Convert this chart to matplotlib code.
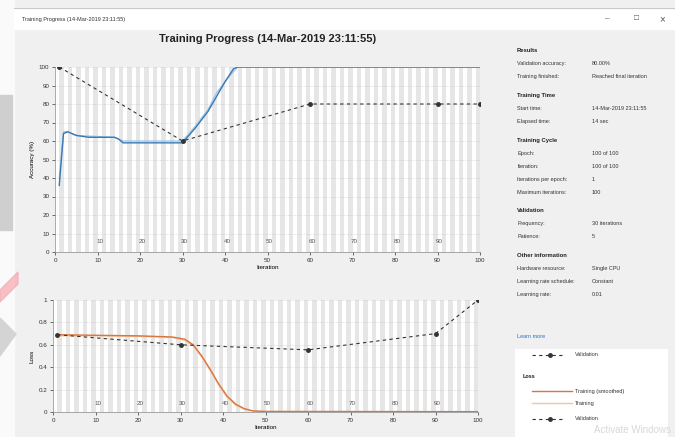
import matplotlib
matplotlib.use("Agg")
import matplotlib.pyplot as plt
from matplotlib.patches import Rectangle, Polygon
from matplotlib.lines import Line2D

plt.rcParams["font.family"] = ["Liberation Sans", "DejaVu Sans"]

# accuracy (%) vs iteration
acc_it = [1, 2, 3, 5, 8, 14, 15, 16, 20, 30, 33, 36, 38, 40, 42, 43, 100]
acc_smooth = [36, 64, 65, 63, 62, 62, 61, 59, 59, 59, 67, 76, 84, 92, 99, 100, 100]
acc_raw_it = [1, 2, 3, 5, 14, 15, 16, 30, 33, 36, 38, 41, 43, 100]
acc_raw = [40, 65, 65, 63, 62, 61, 60, 60, 68, 77, 86, 95, 100, 100]
val_it = [1, 30, 60, 90, 100]
val_acc = [100, 60, 80, 80, 80]

# loss vs iteration
loss_it = [1, 10, 20, 28, 31, 33, 35, 37, 39, 41, 43, 45, 47, 50, 100]
loss_smooth = [0.69, 0.685, 0.68, 0.67, 0.65, 0.60, 0.50, 0.38, 0.25, 0.14, 0.07, 0.03, 0.01, 0.005, 0.003]
loss_raw = [0.68, 0.68, 0.675, 0.665, 0.64, 0.59, 0.49, 0.37, 0.24, 0.13, 0.06, 0.025, 0.008, 0.004, 0.002]
val_loss = [0.69, 0.60, 0.555, 0.70, 1.0]

epochs = list(range(1, 101))
epoch_labels = [10, 20, 30, 40, 50, 60, 70, 80, 90]

info_rows = [
    ("Results", None),
    ("Validation accuracy:", "80.00%"),
    ("Training finished:", "Reached final iteration"),
    ("Training Time", None),
    ("Start time:", "14-Mar-2019 23:11:55"),
    ("Elapsed time:", "14 sec"),
    ("Training Cycle", None),
    ("Epoch:", "100 of 100"),
    ("Iteration:", "100 of 100"),
    ("Iterations per epoch:", "1"),
    ("Maximum iterations:", "100"),
    ("Validation", None),
    ("Frequency:", "30 iterations"),
    ("Patience:", "5"),
    ("Other information", None),
    ("Hardware resource:", "Single CPU"),
    ("Learning rate schedule:", "Constant"),
    ("Learning rate:", "0.01"),
]

W, H = 675, 437
fig = plt.figure(figsize=(W / 100, H / 100), dpi=100)
fig.patch.set_facecolor("#f0f0f0")


def fx(px):
    return px / W


def fy(py):
    return 1 - py / H


# page behind window, title bar
fig.add_artist(Rectangle((0, 0), fx(14), 1, transform=fig.transFigure, color="#fafafa", zorder=0))
fig.add_artist(Rectangle((0, fy(230)), fx(12), fy(95) - fy(230), transform=fig.transFigure, color="#cfcfcf", zorder=1))
fig.add_artist(Polygon([[0, fy(290)], [fx(18), fy(272)], [fx(18), fy(284)], [0, fy(302)]],
                       transform=fig.transFigure, color="#f6a8b0", alpha=0.7, zorder=1))
fig.add_artist(Polygon([[0, fy(318)], [fx(16), fy(334)], [0, fy(356)]],
                       transform=fig.transFigure, color="#d4d4d4", zorder=1))
fig.add_artist(Rectangle((fx(14), fy(29)), 1, fy(8) - fy(29), transform=fig.transFigure, color="white", zorder=1))
fig.add_artist(Line2D([fx(14), 1], [fy(8), fy(8)], transform=fig.transFigure, color="#c8c8c8", lw=0.8))
fig.text(fx(22), fy(19), "Training Progress (14-Mar-2019 23:11:55)", fontsize=4, color="#333333", va="center")
fig.text(fx(607), fy(19), "\u2013", fontsize=6, color="#555555", va="center", ha="center")
fig.text(fx(636), fy(19), "\u25a1", fontsize=6, color="#555555", va="center", ha="center")
fig.text(fx(662), fy(19), "\u00d7", fontsize=7, color="#555555", va="center", ha="center")

fig.text(fx(268), fy(39), "Training Progress (14-Mar-2019 23:11:55)", fontsize=8, fontweight="bold",
         ha="center", va="center", color="#222222")


def style_axes(ax, label_y):
    ax.set_facecolor("white")
    for e in epochs:
        if e % 2 == 0:
            ax.axvspan(e - 1, e, color="#e6e6e6", lw=0, zorder=0)
    ax.set_xlim(0, 100)
    ax.set_xticks(range(0, 101, 10))
    ax.tick_params(labelsize=4.5, length=2, width=0.5, colors="#333333", pad=2)
    ax.set_xlabel("Iteration", fontsize=4.5, labelpad=2)
    ax.set_ylabel(label_y, fontsize=4.5, labelpad=3)
    for s in ax.spines.values():
        s.set_visible(False)
    ax.spines["bottom"].set_visible(True)
    ax.spines["left"].set_visible(True)
    ax.spines["bottom"].set_color("#888888")
    ax.spines["left"].set_color("#888888")
    ax.spines["bottom"].set_linewidth(0.5)
    ax.spines["left"].set_linewidth(0.5)
    ax.grid(axis="y", color="#bbbbbb", lw=0.4, ls=":")


# accuracy axes
ax1 = fig.add_axes([fx(55), fy(252), fx(480 - 55), fy(67) - fy(252)])
style_axes(ax1, "Accuracy (%)")
ax1.set_ylim(0, 100)
ax1.set_yticks(range(0, 101, 10))
ax1.plot(acc_raw_it, acc_raw, color="#9dc6ea", lw=0.9, zorder=3)
ax1.plot(acc_it, acc_smooth, color="#3a78b5", lw=1.0, zorder=4)
ax1.plot(val_it, val_acc, color="#333333", lw=0.8, ls=(0, (3, 3)), marker="o", ms=2.5, zorder=5)
for lab in epoch_labels:
    ax1.text(lab + 0.5, 5.5, str(lab), fontsize=4.5, color="#555555", ha="center", va="center", zorder=6)

# loss axes
ax2 = fig.add_axes([fx(53), fy(412), fx(478 - 53), fy(300) - fy(412)])
style_axes(ax2, "Loss")
ax2.set_ylim(0, 1)
ax2.set_yticks([0, 0.2, 0.4, 0.6, 0.8, 1])
ax2.set_yticklabels(["0", "0.2", "0.4", "0.6", "0.8", "1"])
ax2.plot(loss_it, loss_raw, color="#f6c49a", lw=0.9, zorder=3)
ax2.plot(loss_it, loss_smooth, color="#d9753f", lw=1.0, zorder=4)
ax2.plot(val_it, val_loss, color="#333333", lw=0.8, ls=(0, (3, 3)), marker="o", ms=2.5, zorder=5)
for lab in epoch_labels:
    ax2.text(lab + 0.5, 0.08, str(lab), fontsize=4.5, color="#555555", ha="center", va="center", zorder=6)

# info panel
y = 51
for name, val in info_rows:
    if val is None:
        if y > 51:
            y += 6
        fig.text(fx(517), fy(y), name, fontsize=4.2, fontweight="bold", color="#222222", va="center")
    else:
        fig.text(fx(517), fy(y), name, fontsize=4, color="#333333", va="center")
        fig.text(fx(592), fy(y), val, fontsize=4, color="#333333", va="center")
    y += 12.9

fig.text(fx(517), fy(336), "Learn more", fontsize=4, color="#2a6fc9", va="center")

# legend box
fig.add_artist(Rectangle((fx(515), 0), fx(668 - 515), fy(349), transform=fig.transFigure,
                         facecolor="white", edgecolor="none", zorder=1))
fig.add_artist(Line2D([fx(532), fx(565)], [fy(355), fy(355)], transform=fig.transFigure,
                      color="#333333", lw=0.8, ls=(0, (3, 3)), zorder=2))
fig.add_artist(Line2D([fx(550)], [fy(355)], transform=fig.transFigure,
                      color="#333333", marker="o", ms=2.5, zorder=2))
fig.text(fx(575), fy(355), "Validation", fontsize=4, color="#333333", va="center")
fig.text(fx(523), fy(376), "Loss", fontsize=4, fontweight="bold", color="#222222", va="center")
fig.add_artist(Line2D([fx(532), fx(572)], [fy(391), fy(391)], transform=fig.transFigure,
                      color="#d9753f", lw=1.0, zorder=2))
fig.text(fx(575), fy(391), "Training (smoothed)", fontsize=4, color="#333333", va="center")
fig.add_artist(Line2D([fx(532), fx(572)], [fy(403), fy(403)], transform=fig.transFigure,
                      color="#f6c49a", lw=1.0, zorder=2))
fig.text(fx(575), fy(403), "Training", fontsize=4, color="#333333", va="center")
fig.add_artist(Line2D([fx(532), fx(565)], [fy(419), fy(419)], transform=fig.transFigure,
                      color="#333333", lw=0.8, ls=(0, (3, 3)), zorder=2))
fig.add_artist(Line2D([fx(550)], [fy(419)], transform=fig.transFigure,
                      color="#333333", marker="o", ms=2.5, zorder=2))
fig.text(fx(575), fy(419), "Validation", fontsize=4, color="#333333", va="center")

fig.text(fx(632), fy(430), "Activate Windows", fontsize=7, color="#d8d8d8", ha="center", va="center", zorder=3)

fig.savefig("out.png", dpi=100, facecolor=fig.get_facecolor())
